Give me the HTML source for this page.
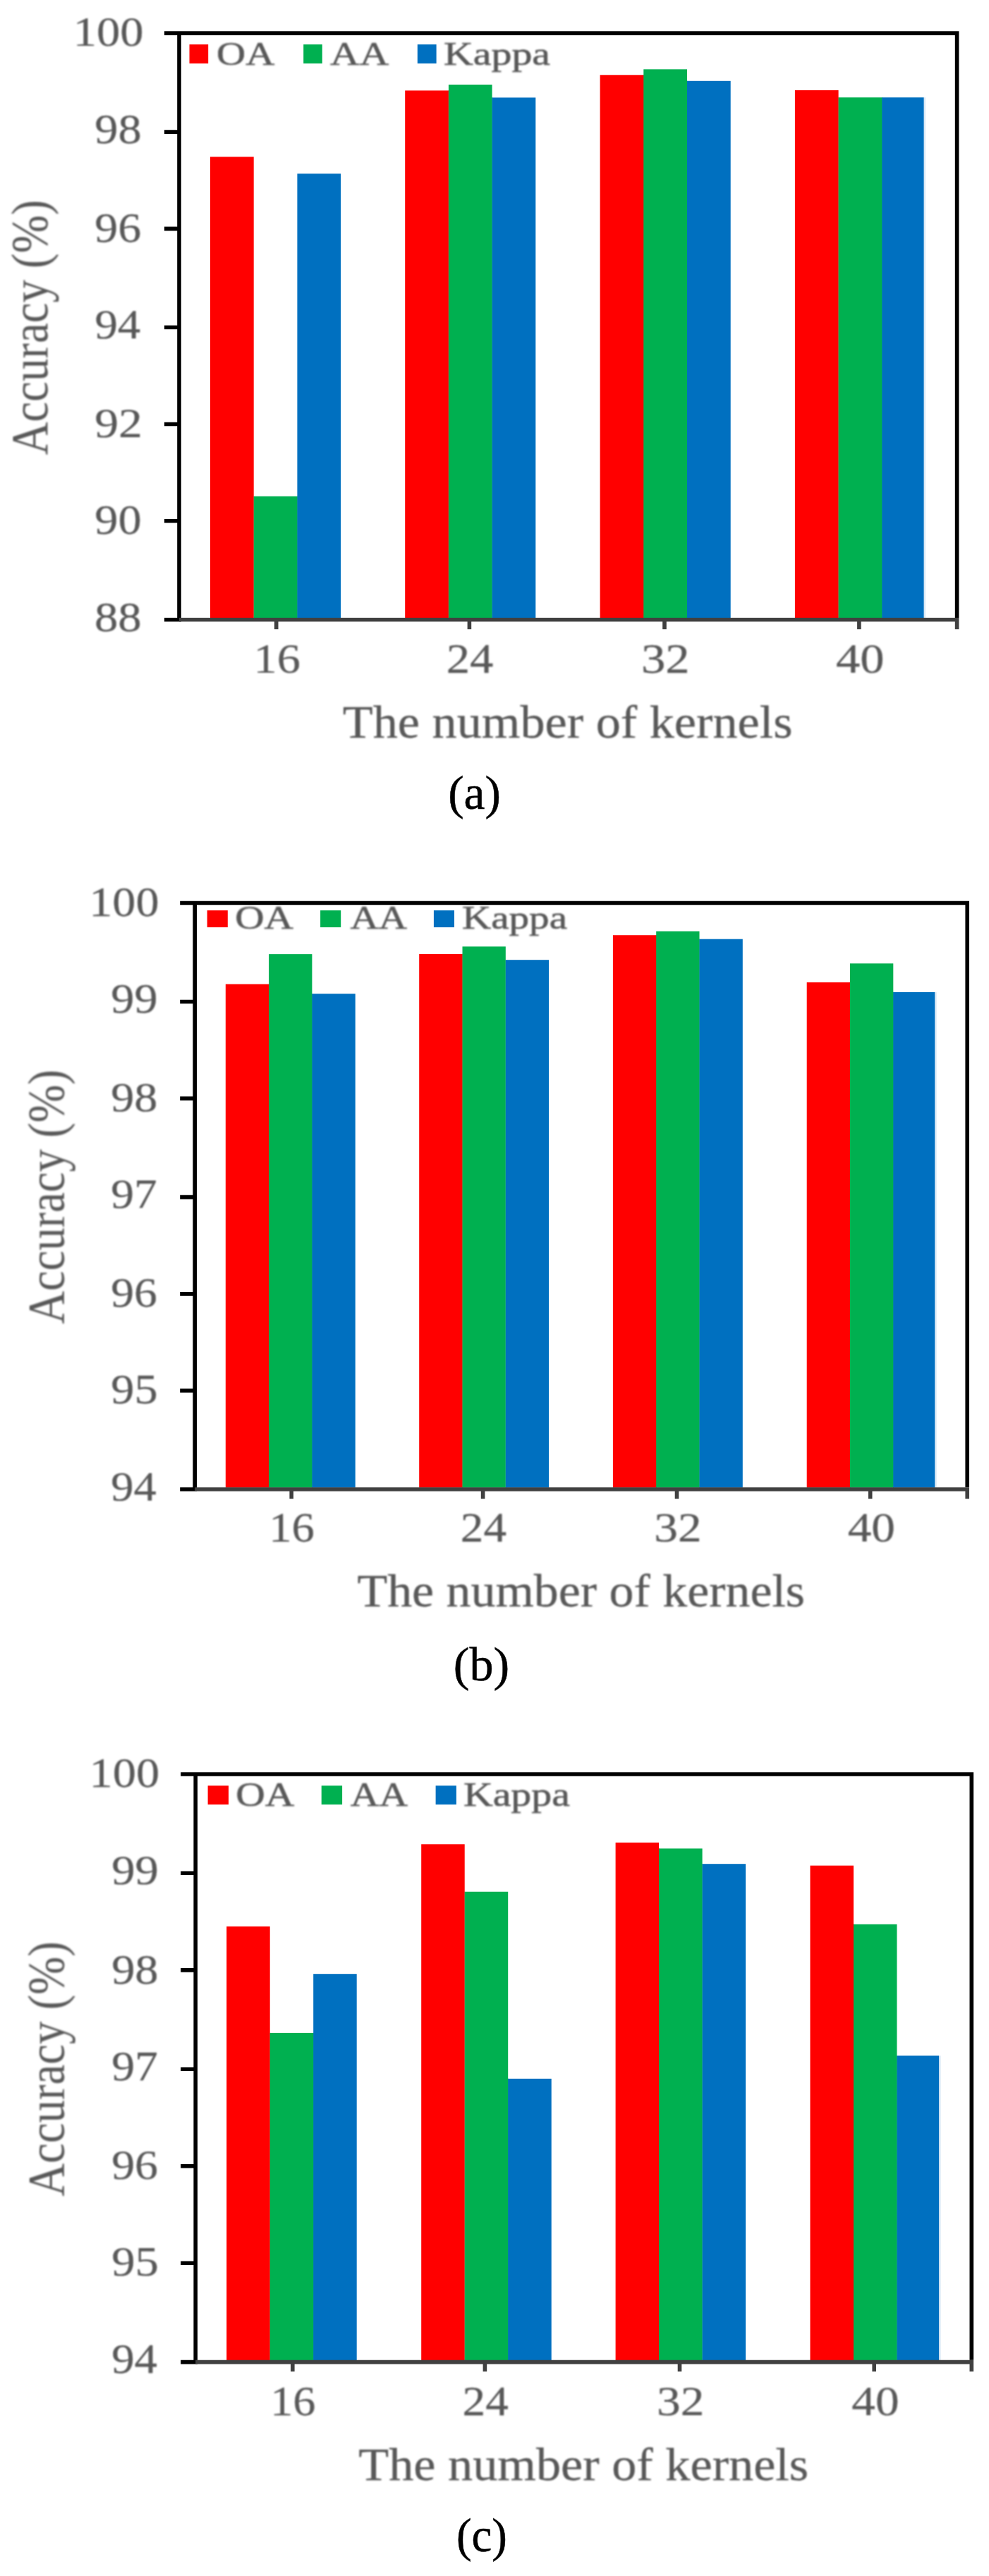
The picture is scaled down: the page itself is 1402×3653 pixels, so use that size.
<!DOCTYPE html>
<html lang="en"><head><meta charset="utf-8"><title>Accuracy versus the number of kernels</title>
<style>
html,body{margin:0;padding:0;background:#fff}
svg{display:block}
text{font-family:"Liberation Serif", serif;}
text.g{stroke:#595959;stroke-width:0.6px;filter:url(#soft)}
text.t{stroke:#595959;stroke-width:0.25px;filter:url(#soft)}
text.h{stroke:#595959;stroke-width:0.3px;filter:url(#soft)}
text.v{filter:url(#soft)}
</style></head><body>
<svg width="1402" height="3653" viewBox="0 0 1402 3653">
<defs><filter id="soft" x="-5%" y="-20%" width="110%" height="140%"><feGaussianBlur stdDeviation="0.8"/></filter></defs>
<rect x="0" y="0" width="1402" height="3653" fill="#ffffff"/>
<g>
<rect x="359.50" y="703.80" width="0.90" height="172.70" fill="#ff0000"/>
<rect x="298.00" y="222.40" width="61.70" height="654.10" fill="#ff0000"/>
<rect x="421.20" y="703.80" width="0.90" height="172.70" fill="#00b050"/>
<rect x="359.70" y="703.80" width="61.70" height="172.70" fill="#00b050"/>
<rect x="421.40" y="246.30" width="61.70" height="630.20" fill="#0070c0"/>
<rect x="635.70" y="128.40" width="0.90" height="748.10" fill="#ff0000"/>
<rect x="574.20" y="128.40" width="61.70" height="748.10" fill="#ff0000"/>
<rect x="697.40" y="138.40" width="0.90" height="738.10" fill="#00b050"/>
<rect x="635.90" y="120.00" width="61.70" height="756.50" fill="#00b050"/>
<rect x="697.60" y="138.40" width="61.70" height="738.10" fill="#0070c0"/>
<rect x="912.10" y="106.30" width="0.90" height="770.20" fill="#ff0000"/>
<rect x="850.60" y="106.30" width="61.70" height="770.20" fill="#ff0000"/>
<rect x="973.80" y="114.80" width="0.90" height="761.70" fill="#00b050"/>
<rect x="912.30" y="98.30" width="61.70" height="778.20" fill="#00b050"/>
<rect x="974.00" y="114.80" width="61.70" height="761.70" fill="#0070c0"/>
<rect x="1188.40" y="138.20" width="0.90" height="738.30" fill="#ff0000"/>
<rect x="1126.90" y="127.90" width="61.70" height="748.60" fill="#ff0000"/>
<rect x="1250.10" y="138.20" width="0.90" height="738.30" fill="#00b050"/>
<rect x="1188.60" y="138.20" width="61.70" height="738.30" fill="#00b050"/>
<rect x="1309.30" y="138.20" width="2.80" height="738.30" fill="#dceaf6"/>
<rect x="1250.30" y="138.20" width="59.30" height="738.30" fill="#0070c0"/>
</g><g>
<path d="M233.00 47.10H1359.40M254.00 47.10V881.60M1356.60 47.10V876.00M233.00 187.09H254.00M233.00 324.33H254.00M233.00 464.32H254.00M233.00 601.57H254.00M233.00 738.81H254.00M233.00 878.80H254.00" fill="none" stroke="#000" stroke-width="5.6"/>
<path d="M254.00 878.80H1359.40M391.70 878.80V892.20M665.40 878.80V892.20M942.00 878.80V892.20M1217.90 878.80V892.20M1356.60 878.80V892.20" fill="none" stroke="#404040" stroke-width="5.6"/>
</g><g>
<text transform="translate(103.68 65.40) scale(1.1147 1.0000)" font-size="59.70" text-anchor="start" fill="#595959" class="t">100</text>
<text transform="translate(134.34 202.89) scale(1.1113 1.0000)" font-size="59.70" text-anchor="start" fill="#595959" class="t">98</text>
<text transform="translate(134.36 343.09) scale(1.1024 1.0000)" font-size="59.70" text-anchor="start" fill="#595959" class="t">96</text>
<text transform="translate(134.39 480.18) scale(1.0850 1.0000)" font-size="59.70" text-anchor="start" fill="#595959" class="t">94</text>
<text transform="translate(134.30 620.08) scale(1.1326 1.0000)" font-size="59.70" text-anchor="start" fill="#595959" class="t">92</text>
<text transform="translate(134.34 756.67) scale(1.1113 1.0000)" font-size="59.70" text-anchor="start" fill="#595959" class="t">90</text>
<text transform="translate(134.00 894.57) scale(1.1173 1.0000)" font-size="59.70" text-anchor="start" fill="#595959" class="t">88</text>
<text transform="translate(359.50 953.70) scale(1.1104 1.0000)" font-size="59.70" text-anchor="start" fill="#595959" class="t">16</text>
<text transform="translate(632.76 953.70) scale(1.1179 1.0000)" font-size="59.70" text-anchor="start" fill="#595959" class="t">24</text>
<text transform="translate(908.93 953.70) scale(1.1534 1.0000)" font-size="59.70" text-anchor="start" fill="#595959" class="t">32</text>
<text transform="translate(1185.03 953.70) scale(1.1499 1.0000)" font-size="59.70" text-anchor="start" fill="#595959" class="t">40</text>
</g><g>
<rect x="268.50" y="63.00" width="26.70" height="27.00" fill="#ff0000"/>
<text transform="translate(307.12 91.80) scale(1.2104 1.0000)" font-size="47.00" text-anchor="start" fill="#595959" class="g">OA</text>
<rect x="430.20" y="63.00" width="26.60" height="27.00" fill="#00b050"/>
<text transform="translate(468.12 91.80) scale(1.2237 1.0000)" font-size="47.00" text-anchor="start" fill="#595959" class="g">AA</text>
<rect x="591.80" y="63.00" width="26.80" height="27.00" fill="#0070c0"/>
<text transform="translate(629.11 91.80) scale(1.2306 1.0000)" font-size="47.00" text-anchor="start" fill="#595959" class="g">Kappa</text>
</g>
<text transform="translate(485.77 1045.50) scale(1.0596 1.0000)" font-size="66.30" text-anchor="start" fill="#595959" class="h">The number of kernels</text>
<text transform="translate(635.13 1147.30) scale(0.9885 1.0000)" font-size="68.20" text-anchor="start" fill="#000" stroke="#000" stroke-width="0.5">(a)</text>
<text transform="translate(67.40 645.25) rotate(-90) scale(1.0001 1.1400)" font-size="64.85" text-anchor="start" fill="#595959" class="v">Accuracy (%)</text>
<g>
<rect x="380.90" y="1395.60" width="0.90" height="714.10" fill="#ff0000"/>
<rect x="319.80" y="1395.60" width="61.30" height="714.10" fill="#ff0000"/>
<rect x="442.20" y="1409.20" width="0.90" height="700.50" fill="#00b050"/>
<rect x="381.10" y="1353.10" width="61.30" height="756.60" fill="#00b050"/>
<rect x="442.40" y="1409.20" width="61.30" height="700.50" fill="#0070c0"/>
<rect x="655.30" y="1352.90" width="0.90" height="756.80" fill="#ff0000"/>
<rect x="594.20" y="1352.90" width="61.30" height="756.80" fill="#ff0000"/>
<rect x="716.60" y="1361.20" width="0.90" height="748.50" fill="#00b050"/>
<rect x="655.50" y="1342.30" width="61.30" height="767.40" fill="#00b050"/>
<rect x="716.80" y="1361.20" width="61.30" height="748.50" fill="#0070c0"/>
<rect x="930.00" y="1326.20" width="0.90" height="783.50" fill="#ff0000"/>
<rect x="868.90" y="1326.20" width="61.30" height="783.50" fill="#ff0000"/>
<rect x="991.30" y="1331.70" width="0.90" height="778.00" fill="#00b050"/>
<rect x="930.20" y="1320.60" width="61.30" height="789.10" fill="#00b050"/>
<rect x="991.50" y="1331.70" width="61.30" height="778.00" fill="#0070c0"/>
<rect x="1204.80" y="1393.10" width="0.90" height="716.60" fill="#ff0000"/>
<rect x="1143.70" y="1393.10" width="61.30" height="716.60" fill="#ff0000"/>
<rect x="1266.10" y="1406.90" width="0.90" height="702.80" fill="#00b050"/>
<rect x="1205.00" y="1366.30" width="61.30" height="743.40" fill="#00b050"/>
<rect x="1324.90" y="1406.90" width="2.80" height="702.80" fill="#dceaf6"/>
<rect x="1266.30" y="1406.90" width="58.90" height="702.80" fill="#0070c0"/>
</g><g>
<path d="M255.20 1280.50H1374.00M276.20 1280.50V2114.80M1371.20 1280.50V2109.20M255.20 1420.46H276.20M255.20 1557.67H276.20M255.20 1697.62H276.20M255.20 1834.83H276.20M255.20 1972.04H276.20M255.20 2112.00H276.20" fill="none" stroke="#000" stroke-width="5.6"/>
<path d="M276.20 2112.00H1374.00M413.20 2112.00V2125.40M684.60 2112.00V2125.40M959.50 2112.00V2125.40M1233.70 2112.00V2125.40M1371.20 2112.00V2125.40" fill="none" stroke="#404040" stroke-width="5.6"/>
</g><g>
<text transform="translate(126.32 1298.60) scale(1.1074 1.0000)" font-size="59.70" text-anchor="start" fill="#595959" class="t">100</text>
<text transform="translate(157.25 1436.06) scale(1.1107 1.0000)" font-size="59.70" text-anchor="start" fill="#595959" class="t">99</text>
<text transform="translate(157.25 1576.22) scale(1.1077 1.0000)" font-size="59.70" text-anchor="start" fill="#595959" class="t">98</text>
<text transform="translate(157.27 1713.28) scale(1.0959 1.0000)" font-size="59.70" text-anchor="start" fill="#595959" class="t">97</text>
<text transform="translate(157.27 1853.14) scale(1.0988 1.0000)" font-size="59.70" text-anchor="start" fill="#595959" class="t">96</text>
<text transform="translate(157.25 1989.70) scale(1.1107 1.0000)" font-size="59.70" text-anchor="start" fill="#595959" class="t">95</text>
<text transform="translate(157.30 2127.57) scale(1.0815 1.0000)" font-size="59.70" text-anchor="start" fill="#595959" class="t">94</text>
<text transform="translate(381.25 2186.00) scale(1.0819 1.0000)" font-size="59.70" text-anchor="start" fill="#595959" class="t">16</text>
<text transform="translate(652.83 2186.00) scale(1.0930 1.0000)" font-size="59.70" text-anchor="start" fill="#595959" class="t">24</text>
<text transform="translate(927.30 2186.00) scale(1.1291 1.0000)" font-size="59.70" text-anchor="start" fill="#595959" class="t">32</text>
<text transform="translate(1201.65 2186.00) scale(1.1285 1.0000)" font-size="59.70" text-anchor="start" fill="#595959" class="t">40</text>
</g><g>
<rect x="293.70" y="1291.00" width="29.10" height="24.00" fill="#ff0000"/>
<text transform="translate(333.21 1317.00) scale(1.2311 1.0000)" font-size="46.50" text-anchor="start" fill="#595959" class="g">OA</text>
<rect x="454.10" y="1291.00" width="29.10" height="24.00" fill="#00b050"/>
<text transform="translate(496.44 1317.00) scale(1.1977 1.0000)" font-size="46.50" text-anchor="start" fill="#595959" class="g">AA</text>
<rect x="614.90" y="1291.00" width="29.10" height="24.00" fill="#0070c0"/>
<text transform="translate(654.93 1317.00) scale(1.2288 1.0000)" font-size="46.50" text-anchor="start" fill="#595959" class="g">Kappa</text>
</g>
<text transform="translate(506.48 2278.30) scale(1.0673 1.0000)" font-size="65.50" text-anchor="start" fill="#595959" class="h">The number of kernels</text>
<text transform="translate(642.81 2383.30) scale(0.9979 1.0000)" font-size="68.20" text-anchor="start" fill="#000" stroke="#000" stroke-width="0.5">(b)</text>
<text transform="translate(90.80 1877.55) rotate(-90) scale(0.9976 1.1400)" font-size="64.85" text-anchor="start" fill="#595959" class="v">Accuracy (%)</text>
<g>
<rect x="382.50" y="2882.90" width="0.90" height="464.40" fill="#ff0000"/>
<rect x="321.20" y="2731.80" width="61.50" height="615.50" fill="#ff0000"/>
<rect x="444.00" y="2882.90" width="0.90" height="464.40" fill="#00b050"/>
<rect x="382.70" y="2882.90" width="61.50" height="464.40" fill="#00b050"/>
<rect x="444.20" y="2799.20" width="61.50" height="548.10" fill="#0070c0"/>
<rect x="658.50" y="2682.70" width="0.90" height="664.60" fill="#ff0000"/>
<rect x="597.20" y="2615.30" width="61.50" height="732.00" fill="#ff0000"/>
<rect x="720.00" y="2947.80" width="0.90" height="399.50" fill="#00b050"/>
<rect x="658.70" y="2682.70" width="61.50" height="664.60" fill="#00b050"/>
<rect x="720.20" y="2947.80" width="61.50" height="399.50" fill="#0070c0"/>
<rect x="933.90" y="2621.40" width="0.90" height="725.90" fill="#ff0000"/>
<rect x="872.60" y="2612.90" width="61.50" height="734.40" fill="#ff0000"/>
<rect x="995.40" y="2643.20" width="0.90" height="704.10" fill="#00b050"/>
<rect x="934.10" y="2621.40" width="61.50" height="725.90" fill="#00b050"/>
<rect x="995.60" y="2643.20" width="61.50" height="704.10" fill="#0070c0"/>
<rect x="1209.80" y="2728.80" width="0.90" height="618.50" fill="#ff0000"/>
<rect x="1148.50" y="2645.60" width="61.50" height="701.70" fill="#ff0000"/>
<rect x="1271.30" y="2915.00" width="0.90" height="432.30" fill="#00b050"/>
<rect x="1210.00" y="2728.80" width="61.50" height="618.50" fill="#00b050"/>
<rect x="1330.80" y="2915.00" width="2.80" height="432.30" fill="#dceaf6"/>
<rect x="1271.50" y="2915.00" width="59.60" height="432.30" fill="#0070c0"/>
</g><g>
<path d="M256.20 2516.00H1380.10M277.20 2516.00V3352.40M1377.30 2516.00V3346.80M256.20 2656.31H277.20M256.20 2793.87H277.20M256.20 2934.18H277.20M256.20 3071.73H277.20M256.20 3209.29H277.20M256.20 3349.60H277.20" fill="none" stroke="#000" stroke-width="5.6"/>
<path d="M277.20 3349.60H1380.10M414.80 3349.60V3363.00M687.40 3349.60V3363.00M963.50 3349.60V3363.00M1239.20 3349.60V3363.00M1377.30 3349.60V3363.00" fill="none" stroke="#404040" stroke-width="5.6"/>
</g><g>
<text transform="translate(126.58 2534.30) scale(1.1134 1.0000)" font-size="59.70" text-anchor="start" fill="#595959" class="t">100</text>
<text transform="translate(158.13 2672.11) scale(1.1161 1.0000)" font-size="59.70" text-anchor="start" fill="#595959" class="t">99</text>
<text transform="translate(158.14 2812.62) scale(1.1131 1.0000)" font-size="59.70" text-anchor="start" fill="#595959" class="t">98</text>
<text transform="translate(158.16 2950.03) scale(1.1013 1.0000)" font-size="59.70" text-anchor="start" fill="#595959" class="t">97</text>
<text transform="translate(158.16 3090.24) scale(1.1042 1.0000)" font-size="59.70" text-anchor="start" fill="#595959" class="t">96</text>
<text transform="translate(158.13 3227.15) scale(1.1161 1.0000)" font-size="59.70" text-anchor="start" fill="#595959" class="t">95</text>
<text transform="translate(158.19 3365.36) scale(1.0868 1.0000)" font-size="59.70" text-anchor="start" fill="#595959" class="t">94</text>
<text transform="translate(383.29 3424.90) scale(1.0743 1.0000)" font-size="59.70" text-anchor="start" fill="#595959" class="t">16</text>
<text transform="translate(655.62 3424.90) scale(1.0948 1.0000)" font-size="59.70" text-anchor="start" fill="#595959" class="t">24</text>
<text transform="translate(930.99 3424.90) scale(1.1310 1.0000)" font-size="59.70" text-anchor="start" fill="#595959" class="t">32</text>
<text transform="translate(1207.25 3424.90) scale(1.1285 1.0000)" font-size="59.70" text-anchor="start" fill="#595959" class="t">40</text>
</g><g>
<rect x="294.60" y="2532.20" width="29.40" height="26.70" fill="#ff0000"/>
<text transform="translate(334.30 2561.30) scale(1.2097 1.0000)" font-size="47.50" text-anchor="start" fill="#595959" class="g">OA</text>
<rect x="455.70" y="2532.20" width="29.40" height="26.70" fill="#00b050"/>
<text transform="translate(496.84 2561.30) scale(1.1843 1.0000)" font-size="47.50" text-anchor="start" fill="#595959" class="g">AA</text>
<rect x="617.60" y="2532.20" width="29.30" height="26.70" fill="#0070c0"/>
<text transform="translate(656.91 2561.30) scale(1.2176 1.0000)" font-size="47.50" text-anchor="start" fill="#595959" class="g">Kappa</text>
</g>
<text transform="translate(508.27 3516.80) scale(1.0647 1.0000)" font-size="66.00" text-anchor="start" fill="#595959" class="h">The number of kernels</text>
<text transform="translate(646.94 3618.20) scale(0.9513 1.0000)" font-size="68.20" text-anchor="start" fill="#000" stroke="#000" stroke-width="0.5">(c)</text>
<text transform="translate(90.80 3114.65) rotate(-90) scale(0.9993 1.1400)" font-size="64.85" text-anchor="start" fill="#595959" class="v">Accuracy (%)</text>
</svg>
</body></html>
